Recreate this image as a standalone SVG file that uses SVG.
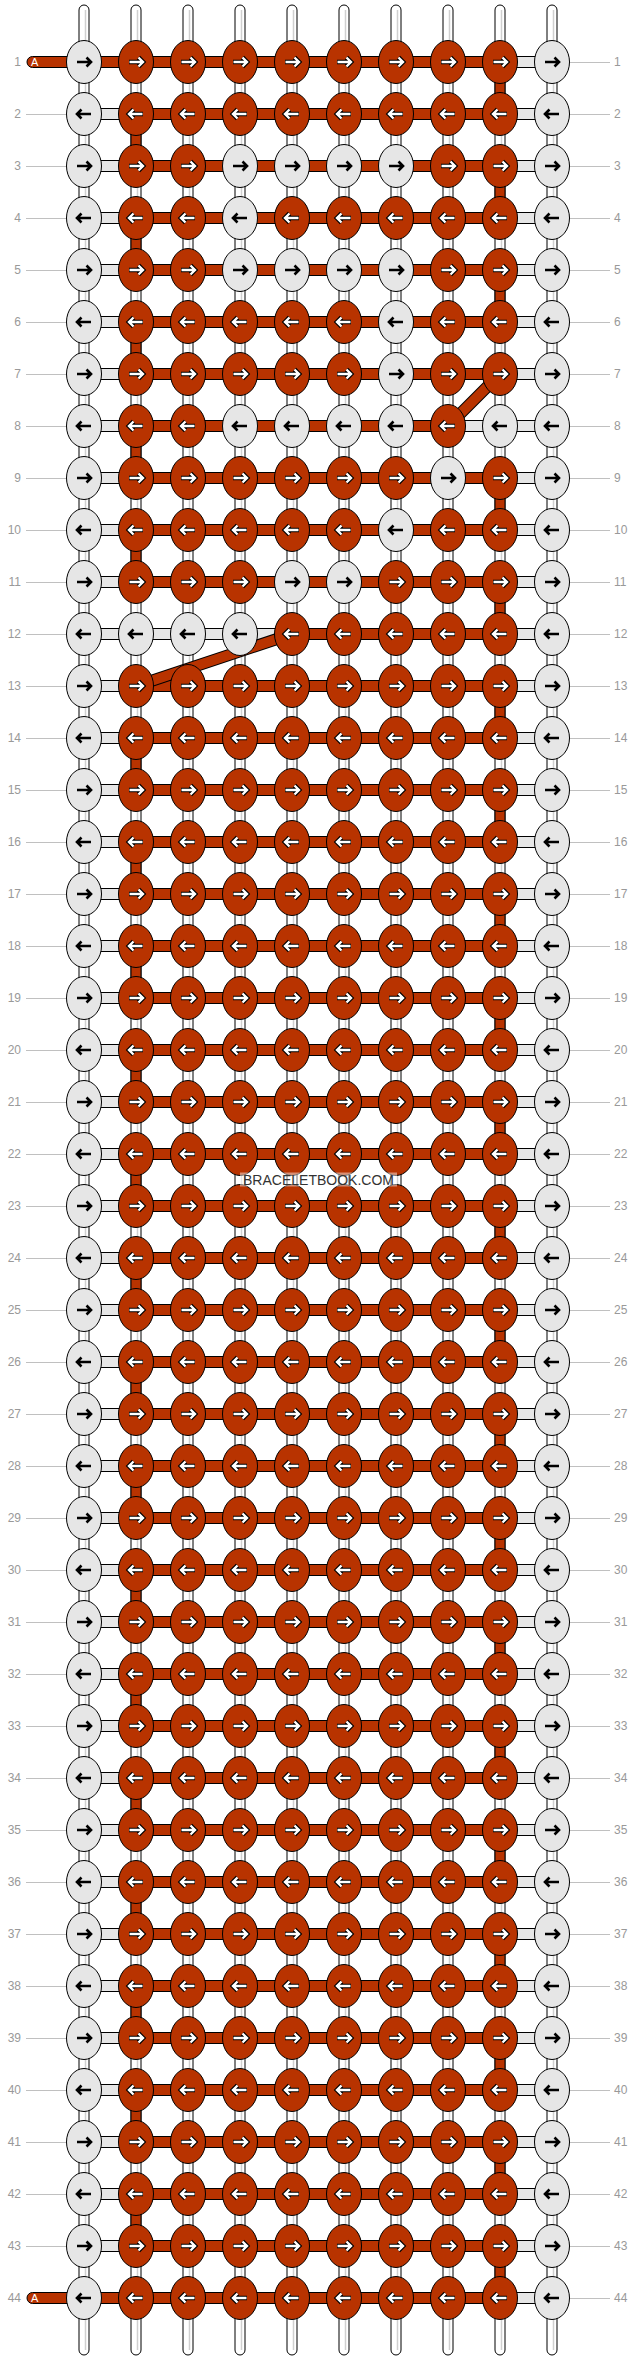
<svg xmlns="http://www.w3.org/2000/svg" xmlns:xlink="http://www.w3.org/1999/xlink" width="636" height="2360" viewBox="0 0 636 2360">
<style>
.vt{fill:#fff;stroke:#000;stroke-width:1}
.vl{stroke:#cfcfcf;stroke-width:1.5;fill:none}
.hl{fill:#e6e6e6;stroke:#000;stroke-width:1}
.hr{fill:#b83300;stroke:#000;stroke-width:1}
.kw{fill:#e6e6e6;stroke:#000;stroke-width:1}
.kr{fill:#b83300;stroke:#000;stroke-width:1}
.ab{fill:none;stroke:#000;stroke-width:2.6}
.ao{fill:none;stroke:#000;stroke-width:4.6}
.ai{fill:none;stroke:#fff;stroke-width:2.4}
.ln{stroke:#c0c0c0;stroke-width:1;fill:none}
.nm{font-family:"Liberation Sans",Arial,sans-serif;font-size:12px;fill:#999}
.nr{text-anchor:end}
.tg{font-family:"Liberation Sans",Arial,sans-serif;font-size:11px;fill:#fff}
.dg1{stroke:#000;stroke-width:12;fill:none}
.dg2{stroke:#b83300;stroke-width:10;fill:none}
</style>
<defs>
<g id="a"><ellipse class="kw" rx="17.5" ry="21.5"/><path class="ab" d="M-7,0H6M2.5,-4.5L7,0L2.5,4.5"/></g>
<g id="b"><ellipse class="kw" rx="17.5" ry="21.5"/><path class="ab" d="M7,0H-6M-2.5,-4.5L-7,0L-2.5,4.5"/></g>
<g id="c"><ellipse class="kr" rx="17.5" ry="21.5"/><path class="ao" d="M-7,0H6M2.5,-4.5L7,0L2.5,4.5"/><path class="ai" d="M-6.5,0H6M2.5,-4.5L7,0L2.5,4.5"/></g>
<g id="d"><ellipse class="kr" rx="17.5" ry="21.5"/><path class="ao" d="M7,0H-6M-2.5,-4.5L-7,0L-2.5,4.5"/><path class="ai" d="M6.5,0H-6M-2.5,-4.5L-7,0L-2.5,4.5"/></g>
</defs>
<rect width="636" height="2360" fill="#fff"/>
<g id="connectors">
<g id="threads">
<rect class="vt" x="79" y="5" width="10" height="2350" rx="5"/>
<rect class="vt" x="131" y="5" width="10" height="2350" rx="5"/>
<rect class="vt" x="183" y="5" width="10" height="2350" rx="5"/>
<rect class="vt" x="235" y="5" width="10" height="2350" rx="5"/>
<rect class="vt" x="287" y="5" width="10" height="2350" rx="5"/>
<rect class="vt" x="339" y="5" width="10" height="2350" rx="5"/>
<rect class="vt" x="391" y="5" width="10" height="2350" rx="5"/>
<rect class="vt" x="443" y="5" width="10" height="2350" rx="5"/>
<rect class="vt" x="495" y="5" width="10" height="2350" rx="5"/>
<rect class="vt" x="547" y="5" width="10" height="2350" rx="5"/>
<path class="vl" d="M85.5,10V2350M137.5,10V2350M189.5,10V2350M241.5,10V2350M293.5,10V2350M345.5,10V2350M397.5,10V2350M449.5,10V2350M501.5,10V2350M553.5,10V2350"/>
</g>
<g id="rowbars">
<rect class="hl" x="84" y="56.5" width="468" height="11"/>
<rect class="hl" x="84" y="108.5" width="468" height="11"/>
<rect class="hl" x="84" y="160.5" width="468" height="11"/>
<rect class="hl" x="84" y="212.5" width="468" height="11"/>
<rect class="hl" x="84" y="264.5" width="468" height="11"/>
<rect class="hl" x="84" y="316.5" width="468" height="11"/>
<rect class="hl" x="84" y="368.5" width="468" height="11"/>
<rect class="hl" x="84" y="420.5" width="468" height="11"/>
<rect class="hl" x="84" y="472.5" width="468" height="11"/>
<rect class="hl" x="84" y="524.5" width="468" height="11"/>
<rect class="hl" x="84" y="576.5" width="468" height="11"/>
<rect class="hl" x="84" y="628.5" width="468" height="11"/>
<rect class="hl" x="84" y="680.5" width="468" height="11"/>
<rect class="hl" x="84" y="732.5" width="468" height="11"/>
<rect class="hl" x="84" y="784.5" width="468" height="11"/>
<rect class="hl" x="84" y="836.5" width="468" height="11"/>
<rect class="hl" x="84" y="888.5" width="468" height="11"/>
<rect class="hl" x="84" y="940.5" width="468" height="11"/>
<rect class="hl" x="84" y="992.5" width="468" height="11"/>
<rect class="hl" x="84" y="1044.5" width="468" height="11"/>
<rect class="hl" x="84" y="1096.5" width="468" height="11"/>
<rect class="hl" x="84" y="1148.5" width="468" height="11"/>
<rect class="hl" x="84" y="1200.5" width="468" height="11"/>
<rect class="hl" x="84" y="1252.5" width="468" height="11"/>
<rect class="hl" x="84" y="1304.5" width="468" height="11"/>
<rect class="hl" x="84" y="1356.5" width="468" height="11"/>
<rect class="hl" x="84" y="1408.5" width="468" height="11"/>
<rect class="hl" x="84" y="1460.5" width="468" height="11"/>
<rect class="hl" x="84" y="1512.5" width="468" height="11"/>
<rect class="hl" x="84" y="1564.5" width="468" height="11"/>
<rect class="hl" x="84" y="1616.5" width="468" height="11"/>
<rect class="hl" x="84" y="1668.5" width="468" height="11"/>
<rect class="hl" x="84" y="1720.5" width="468" height="11"/>
<rect class="hl" x="84" y="1772.5" width="468" height="11"/>
<rect class="hl" x="84" y="1824.5" width="468" height="11"/>
<rect class="hl" x="84" y="1876.5" width="468" height="11"/>
<rect class="hl" x="84" y="1928.5" width="468" height="11"/>
<rect class="hl" x="84" y="1980.5" width="468" height="11"/>
<rect class="hl" x="84" y="2032.5" width="468" height="11"/>
<rect class="hl" x="84" y="2084.5" width="468" height="11"/>
<rect class="hl" x="84" y="2136.5" width="468" height="11"/>
<rect class="hl" x="84" y="2188.5" width="468" height="11"/>
<rect class="hl" x="84" y="2240.5" width="468" height="11"/>
<rect class="hl" x="84" y="2292.5" width="468" height="11"/>
</g>
<g id="redthread">
<rect class="hr" x="27" y="56.5" width="60" height="11" rx="5.5"/>
<rect class="hr" x="84" y="56.5" width="416" height="11"/>
<rect class="hr" x="136" y="108.5" width="364" height="11"/>
<rect class="hr" x="136" y="160.5" width="364" height="11"/>
<rect class="hr" x="136" y="212.5" width="364" height="11"/>
<rect class="hr" x="136" y="264.5" width="364" height="11"/>
<rect class="hr" x="136" y="316.5" width="364" height="11"/>
<rect class="hr" x="136" y="368.5" width="364" height="11"/>
<rect class="hr" x="136" y="420.5" width="312" height="11"/>
<rect class="hr" x="136" y="472.5" width="364" height="11"/>
<rect class="hr" x="136" y="524.5" width="364" height="11"/>
<rect class="hr" x="136" y="576.5" width="364" height="11"/>
<rect class="hr" x="292" y="628.5" width="208" height="11"/>
<rect class="hr" x="136" y="680.5" width="364" height="11"/>
<rect class="hr" x="136" y="732.5" width="364" height="11"/>
<rect class="hr" x="136" y="784.5" width="364" height="11"/>
<rect class="hr" x="136" y="836.5" width="364" height="11"/>
<rect class="hr" x="136" y="888.5" width="364" height="11"/>
<rect class="hr" x="136" y="940.5" width="364" height="11"/>
<rect class="hr" x="136" y="992.5" width="364" height="11"/>
<rect class="hr" x="136" y="1044.5" width="364" height="11"/>
<rect class="hr" x="136" y="1096.5" width="364" height="11"/>
<rect class="hr" x="136" y="1148.5" width="364" height="11"/>
<rect class="hr" x="136" y="1200.5" width="364" height="11"/>
<rect class="hr" x="136" y="1252.5" width="364" height="11"/>
<rect class="hr" x="136" y="1304.5" width="364" height="11"/>
<rect class="hr" x="136" y="1356.5" width="364" height="11"/>
<rect class="hr" x="136" y="1408.5" width="364" height="11"/>
<rect class="hr" x="136" y="1460.5" width="364" height="11"/>
<rect class="hr" x="136" y="1512.5" width="364" height="11"/>
<rect class="hr" x="136" y="1564.5" width="364" height="11"/>
<rect class="hr" x="136" y="1616.5" width="364" height="11"/>
<rect class="hr" x="136" y="1668.5" width="364" height="11"/>
<rect class="hr" x="136" y="1720.5" width="364" height="11"/>
<rect class="hr" x="136" y="1772.5" width="364" height="11"/>
<rect class="hr" x="136" y="1824.5" width="364" height="11"/>
<rect class="hr" x="136" y="1876.5" width="364" height="11"/>
<rect class="hr" x="136" y="1928.5" width="364" height="11"/>
<rect class="hr" x="136" y="1980.5" width="364" height="11"/>
<rect class="hr" x="136" y="2032.5" width="364" height="11"/>
<rect class="hr" x="136" y="2084.5" width="364" height="11"/>
<rect class="hr" x="136" y="2136.5" width="364" height="11"/>
<rect class="hr" x="136" y="2188.5" width="364" height="11"/>
<rect class="hr" x="136" y="2240.5" width="364" height="11"/>
<rect class="hr" x="27" y="2292.5" width="60" height="11" rx="5.5"/>
<rect class="hr" x="84" y="2292.5" width="416" height="11"/>
<!-- turns at right (col 9) -->
<rect class="hr" x="495" y="62" width="10" height="52"/>
<rect class="hr" x="495" y="166" width="10" height="52"/>
<rect class="hr" x="495" y="270" width="10" height="52"/>
<rect class="hr" x="495" y="478" width="10" height="52"/>
<rect class="hr" x="495" y="582" width="10" height="52"/>
<rect class="hr" x="495" y="686" width="10" height="52"/>
<rect class="hr" x="495" y="790" width="10" height="52"/>
<rect class="hr" x="495" y="894" width="10" height="52"/>
<rect class="hr" x="495" y="998" width="10" height="52"/>
<rect class="hr" x="495" y="1102" width="10" height="52"/>
<rect class="hr" x="495" y="1206" width="10" height="52"/>
<rect class="hr" x="495" y="1310" width="10" height="52"/>
<rect class="hr" x="495" y="1414" width="10" height="52"/>
<rect class="hr" x="495" y="1518" width="10" height="52"/>
<rect class="hr" x="495" y="1622" width="10" height="52"/>
<rect class="hr" x="495" y="1726" width="10" height="52"/>
<rect class="hr" x="495" y="1830" width="10" height="52"/>
<rect class="hr" x="495" y="1934" width="10" height="52"/>
<rect class="hr" x="495" y="2038" width="10" height="52"/>
<rect class="hr" x="495" y="2142" width="10" height="52"/>
<rect class="hr" x="495" y="2246" width="10" height="52"/>
<!-- turns at left (col 2) -->
<rect class="hr" x="131" y="114" width="10" height="52"/>
<rect class="hr" x="131" y="218" width="10" height="52"/>
<rect class="hr" x="131" y="322" width="10" height="52"/>
<rect class="hr" x="131" y="426" width="10" height="52"/>
<rect class="hr" x="131" y="530" width="10" height="52"/>
<rect class="hr" x="131" y="738" width="10" height="52"/>
<rect class="hr" x="131" y="842" width="10" height="52"/>
<rect class="hr" x="131" y="946" width="10" height="52"/>
<rect class="hr" x="131" y="1050" width="10" height="52"/>
<rect class="hr" x="131" y="1154" width="10" height="52"/>
<rect class="hr" x="131" y="1258" width="10" height="52"/>
<rect class="hr" x="131" y="1362" width="10" height="52"/>
<rect class="hr" x="131" y="1466" width="10" height="52"/>
<rect class="hr" x="131" y="1570" width="10" height="52"/>
<rect class="hr" x="131" y="1674" width="10" height="52"/>
<rect class="hr" x="131" y="1778" width="10" height="52"/>
<rect class="hr" x="131" y="1882" width="10" height="52"/>
<rect class="hr" x="131" y="1986" width="10" height="52"/>
<rect class="hr" x="131" y="2090" width="10" height="52"/>
<rect class="hr" x="131" y="2194" width="10" height="52"/>
<!-- diagonals -->
<path class="dg1" d="M500,374L448,426M292,634L136,686"/>
<path class="dg2" d="M500,374L448,426M292,634L136,686"/>
</g>
</g>
<g id="tags">
<text class="tg" x="31" y="66">A</text>
<text class="tg" x="31" y="2302">A</text>
</g>
<g id="nodes">
<g id="row1" transform="translate(0,62)"><use id="k1-1" href="#a" x="84"/><use id="k1-2" href="#c" x="136"/><use id="k1-3" href="#c" x="188"/><use id="k1-4" href="#c" x="240"/><use id="k1-5" href="#c" x="292"/><use id="k1-6" href="#c" x="344"/><use id="k1-7" href="#c" x="396"/><use id="k1-8" href="#c" x="448"/><use id="k1-9" href="#c" x="500"/><use id="k1-10" href="#a" x="552"/></g>
<g id="row2" transform="translate(0,114)"><use id="k2-1" href="#b" x="84"/><use id="k2-2" href="#d" x="136"/><use id="k2-3" href="#d" x="188"/><use id="k2-4" href="#d" x="240"/><use id="k2-5" href="#d" x="292"/><use id="k2-6" href="#d" x="344"/><use id="k2-7" href="#d" x="396"/><use id="k2-8" href="#d" x="448"/><use id="k2-9" href="#d" x="500"/><use id="k2-10" href="#b" x="552"/></g>
<g id="row3" transform="translate(0,166)"><use id="k3-1" href="#a" x="84"/><use id="k3-2" href="#c" x="136"/><use id="k3-3" href="#c" x="188"/><use id="k3-4" href="#a" x="240"/><use id="k3-5" href="#a" x="292"/><use id="k3-6" href="#a" x="344"/><use id="k3-7" href="#a" x="396"/><use id="k3-8" href="#c" x="448"/><use id="k3-9" href="#c" x="500"/><use id="k3-10" href="#a" x="552"/></g>
<g id="row4" transform="translate(0,218)"><use id="k4-1" href="#b" x="84"/><use id="k4-2" href="#d" x="136"/><use id="k4-3" href="#d" x="188"/><use id="k4-4" href="#b" x="240"/><use id="k4-5" href="#d" x="292"/><use id="k4-6" href="#d" x="344"/><use id="k4-7" href="#d" x="396"/><use id="k4-8" href="#d" x="448"/><use id="k4-9" href="#d" x="500"/><use id="k4-10" href="#b" x="552"/></g>
<g id="row5" transform="translate(0,270)"><use id="k5-1" href="#a" x="84"/><use id="k5-2" href="#c" x="136"/><use id="k5-3" href="#c" x="188"/><use id="k5-4" href="#a" x="240"/><use id="k5-5" href="#a" x="292"/><use id="k5-6" href="#a" x="344"/><use id="k5-7" href="#a" x="396"/><use id="k5-8" href="#c" x="448"/><use id="k5-9" href="#c" x="500"/><use id="k5-10" href="#a" x="552"/></g>
<g id="row6" transform="translate(0,322)"><use id="k6-1" href="#b" x="84"/><use id="k6-2" href="#d" x="136"/><use id="k6-3" href="#d" x="188"/><use id="k6-4" href="#d" x="240"/><use id="k6-5" href="#d" x="292"/><use id="k6-6" href="#d" x="344"/><use id="k6-7" href="#b" x="396"/><use id="k6-8" href="#d" x="448"/><use id="k6-9" href="#d" x="500"/><use id="k6-10" href="#b" x="552"/></g>
<g id="row7" transform="translate(0,374)"><use id="k7-1" href="#a" x="84"/><use id="k7-2" href="#c" x="136"/><use id="k7-3" href="#c" x="188"/><use id="k7-4" href="#c" x="240"/><use id="k7-5" href="#c" x="292"/><use id="k7-6" href="#c" x="344"/><use id="k7-7" href="#a" x="396"/><use id="k7-8" href="#c" x="448"/><use id="k7-9" href="#c" x="500"/><use id="k7-10" href="#a" x="552"/></g>
<g id="row8" transform="translate(0,426)"><use id="k8-1" href="#b" x="84"/><use id="k8-2" href="#d" x="136"/><use id="k8-3" href="#d" x="188"/><use id="k8-4" href="#b" x="240"/><use id="k8-5" href="#b" x="292"/><use id="k8-6" href="#b" x="344"/><use id="k8-7" href="#b" x="396"/><use id="k8-8" href="#d" x="448"/><use id="k8-9" href="#b" x="500"/><use id="k8-10" href="#b" x="552"/></g>
<g id="row9" transform="translate(0,478)"><use id="k9-1" href="#a" x="84"/><use id="k9-2" href="#c" x="136"/><use id="k9-3" href="#c" x="188"/><use id="k9-4" href="#c" x="240"/><use id="k9-5" href="#c" x="292"/><use id="k9-6" href="#c" x="344"/><use id="k9-7" href="#c" x="396"/><use id="k9-8" href="#a" x="448"/><use id="k9-9" href="#c" x="500"/><use id="k9-10" href="#a" x="552"/></g>
<g id="row10" transform="translate(0,530)"><use id="k10-1" href="#b" x="84"/><use id="k10-2" href="#d" x="136"/><use id="k10-3" href="#d" x="188"/><use id="k10-4" href="#d" x="240"/><use id="k10-5" href="#d" x="292"/><use id="k10-6" href="#d" x="344"/><use id="k10-7" href="#b" x="396"/><use id="k10-8" href="#d" x="448"/><use id="k10-9" href="#d" x="500"/><use id="k10-10" href="#b" x="552"/></g>
<g id="row11" transform="translate(0,582)"><use id="k11-1" href="#a" x="84"/><use id="k11-2" href="#c" x="136"/><use id="k11-3" href="#c" x="188"/><use id="k11-4" href="#c" x="240"/><use id="k11-5" href="#a" x="292"/><use id="k11-6" href="#a" x="344"/><use id="k11-7" href="#c" x="396"/><use id="k11-8" href="#c" x="448"/><use id="k11-9" href="#c" x="500"/><use id="k11-10" href="#a" x="552"/></g>
<g id="row12" transform="translate(0,634)"><use id="k12-1" href="#b" x="84"/><use id="k12-2" href="#b" x="136"/><use id="k12-3" href="#b" x="188"/><use id="k12-4" href="#b" x="240"/><use id="k12-5" href="#d" x="292"/><use id="k12-6" href="#d" x="344"/><use id="k12-7" href="#d" x="396"/><use id="k12-8" href="#d" x="448"/><use id="k12-9" href="#d" x="500"/><use id="k12-10" href="#b" x="552"/></g>
<g id="row13" transform="translate(0,686)"><use id="k13-1" href="#a" x="84"/><use id="k13-2" href="#c" x="136"/><use id="k13-3" href="#c" x="188"/><use id="k13-4" href="#c" x="240"/><use id="k13-5" href="#c" x="292"/><use id="k13-6" href="#c" x="344"/><use id="k13-7" href="#c" x="396"/><use id="k13-8" href="#c" x="448"/><use id="k13-9" href="#c" x="500"/><use id="k13-10" href="#a" x="552"/></g>
<g id="row14" transform="translate(0,738)"><use id="k14-1" href="#b" x="84"/><use id="k14-2" href="#d" x="136"/><use id="k14-3" href="#d" x="188"/><use id="k14-4" href="#d" x="240"/><use id="k14-5" href="#d" x="292"/><use id="k14-6" href="#d" x="344"/><use id="k14-7" href="#d" x="396"/><use id="k14-8" href="#d" x="448"/><use id="k14-9" href="#d" x="500"/><use id="k14-10" href="#b" x="552"/></g>
<g id="row15" transform="translate(0,790)"><use id="k15-1" href="#a" x="84"/><use id="k15-2" href="#c" x="136"/><use id="k15-3" href="#c" x="188"/><use id="k15-4" href="#c" x="240"/><use id="k15-5" href="#c" x="292"/><use id="k15-6" href="#c" x="344"/><use id="k15-7" href="#c" x="396"/><use id="k15-8" href="#c" x="448"/><use id="k15-9" href="#c" x="500"/><use id="k15-10" href="#a" x="552"/></g>
<g id="row16" transform="translate(0,842)"><use id="k16-1" href="#b" x="84"/><use id="k16-2" href="#d" x="136"/><use id="k16-3" href="#d" x="188"/><use id="k16-4" href="#d" x="240"/><use id="k16-5" href="#d" x="292"/><use id="k16-6" href="#d" x="344"/><use id="k16-7" href="#d" x="396"/><use id="k16-8" href="#d" x="448"/><use id="k16-9" href="#d" x="500"/><use id="k16-10" href="#b" x="552"/></g>
<g id="row17" transform="translate(0,894)"><use id="k17-1" href="#a" x="84"/><use id="k17-2" href="#c" x="136"/><use id="k17-3" href="#c" x="188"/><use id="k17-4" href="#c" x="240"/><use id="k17-5" href="#c" x="292"/><use id="k17-6" href="#c" x="344"/><use id="k17-7" href="#c" x="396"/><use id="k17-8" href="#c" x="448"/><use id="k17-9" href="#c" x="500"/><use id="k17-10" href="#a" x="552"/></g>
<g id="row18" transform="translate(0,946)"><use id="k18-1" href="#b" x="84"/><use id="k18-2" href="#d" x="136"/><use id="k18-3" href="#d" x="188"/><use id="k18-4" href="#d" x="240"/><use id="k18-5" href="#d" x="292"/><use id="k18-6" href="#d" x="344"/><use id="k18-7" href="#d" x="396"/><use id="k18-8" href="#d" x="448"/><use id="k18-9" href="#d" x="500"/><use id="k18-10" href="#b" x="552"/></g>
<g id="row19" transform="translate(0,998)"><use id="k19-1" href="#a" x="84"/><use id="k19-2" href="#c" x="136"/><use id="k19-3" href="#c" x="188"/><use id="k19-4" href="#c" x="240"/><use id="k19-5" href="#c" x="292"/><use id="k19-6" href="#c" x="344"/><use id="k19-7" href="#c" x="396"/><use id="k19-8" href="#c" x="448"/><use id="k19-9" href="#c" x="500"/><use id="k19-10" href="#a" x="552"/></g>
<g id="row20" transform="translate(0,1050)"><use id="k20-1" href="#b" x="84"/><use id="k20-2" href="#d" x="136"/><use id="k20-3" href="#d" x="188"/><use id="k20-4" href="#d" x="240"/><use id="k20-5" href="#d" x="292"/><use id="k20-6" href="#d" x="344"/><use id="k20-7" href="#d" x="396"/><use id="k20-8" href="#d" x="448"/><use id="k20-9" href="#d" x="500"/><use id="k20-10" href="#b" x="552"/></g>
<g id="row21" transform="translate(0,1102)"><use id="k21-1" href="#a" x="84"/><use id="k21-2" href="#c" x="136"/><use id="k21-3" href="#c" x="188"/><use id="k21-4" href="#c" x="240"/><use id="k21-5" href="#c" x="292"/><use id="k21-6" href="#c" x="344"/><use id="k21-7" href="#c" x="396"/><use id="k21-8" href="#c" x="448"/><use id="k21-9" href="#c" x="500"/><use id="k21-10" href="#a" x="552"/></g>
<g id="row22" transform="translate(0,1154)"><use id="k22-1" href="#b" x="84"/><use id="k22-2" href="#d" x="136"/><use id="k22-3" href="#d" x="188"/><use id="k22-4" href="#d" x="240"/><use id="k22-5" href="#d" x="292"/><use id="k22-6" href="#d" x="344"/><use id="k22-7" href="#d" x="396"/><use id="k22-8" href="#d" x="448"/><use id="k22-9" href="#d" x="500"/><use id="k22-10" href="#b" x="552"/></g>
<g id="row23" transform="translate(0,1206)"><use id="k23-1" href="#a" x="84"/><use id="k23-2" href="#c" x="136"/><use id="k23-3" href="#c" x="188"/><use id="k23-4" href="#c" x="240"/><use id="k23-5" href="#c" x="292"/><use id="k23-6" href="#c" x="344"/><use id="k23-7" href="#c" x="396"/><use id="k23-8" href="#c" x="448"/><use id="k23-9" href="#c" x="500"/><use id="k23-10" href="#a" x="552"/></g>
<g id="row24" transform="translate(0,1258)"><use id="k24-1" href="#b" x="84"/><use id="k24-2" href="#d" x="136"/><use id="k24-3" href="#d" x="188"/><use id="k24-4" href="#d" x="240"/><use id="k24-5" href="#d" x="292"/><use id="k24-6" href="#d" x="344"/><use id="k24-7" href="#d" x="396"/><use id="k24-8" href="#d" x="448"/><use id="k24-9" href="#d" x="500"/><use id="k24-10" href="#b" x="552"/></g>
<g id="row25" transform="translate(0,1310)"><use id="k25-1" href="#a" x="84"/><use id="k25-2" href="#c" x="136"/><use id="k25-3" href="#c" x="188"/><use id="k25-4" href="#c" x="240"/><use id="k25-5" href="#c" x="292"/><use id="k25-6" href="#c" x="344"/><use id="k25-7" href="#c" x="396"/><use id="k25-8" href="#c" x="448"/><use id="k25-9" href="#c" x="500"/><use id="k25-10" href="#a" x="552"/></g>
<g id="row26" transform="translate(0,1362)"><use id="k26-1" href="#b" x="84"/><use id="k26-2" href="#d" x="136"/><use id="k26-3" href="#d" x="188"/><use id="k26-4" href="#d" x="240"/><use id="k26-5" href="#d" x="292"/><use id="k26-6" href="#d" x="344"/><use id="k26-7" href="#d" x="396"/><use id="k26-8" href="#d" x="448"/><use id="k26-9" href="#d" x="500"/><use id="k26-10" href="#b" x="552"/></g>
<g id="row27" transform="translate(0,1414)"><use id="k27-1" href="#a" x="84"/><use id="k27-2" href="#c" x="136"/><use id="k27-3" href="#c" x="188"/><use id="k27-4" href="#c" x="240"/><use id="k27-5" href="#c" x="292"/><use id="k27-6" href="#c" x="344"/><use id="k27-7" href="#c" x="396"/><use id="k27-8" href="#c" x="448"/><use id="k27-9" href="#c" x="500"/><use id="k27-10" href="#a" x="552"/></g>
<g id="row28" transform="translate(0,1466)"><use id="k28-1" href="#b" x="84"/><use id="k28-2" href="#d" x="136"/><use id="k28-3" href="#d" x="188"/><use id="k28-4" href="#d" x="240"/><use id="k28-5" href="#d" x="292"/><use id="k28-6" href="#d" x="344"/><use id="k28-7" href="#d" x="396"/><use id="k28-8" href="#d" x="448"/><use id="k28-9" href="#d" x="500"/><use id="k28-10" href="#b" x="552"/></g>
<g id="row29" transform="translate(0,1518)"><use id="k29-1" href="#a" x="84"/><use id="k29-2" href="#c" x="136"/><use id="k29-3" href="#c" x="188"/><use id="k29-4" href="#c" x="240"/><use id="k29-5" href="#c" x="292"/><use id="k29-6" href="#c" x="344"/><use id="k29-7" href="#c" x="396"/><use id="k29-8" href="#c" x="448"/><use id="k29-9" href="#c" x="500"/><use id="k29-10" href="#a" x="552"/></g>
<g id="row30" transform="translate(0,1570)"><use id="k30-1" href="#b" x="84"/><use id="k30-2" href="#d" x="136"/><use id="k30-3" href="#d" x="188"/><use id="k30-4" href="#d" x="240"/><use id="k30-5" href="#d" x="292"/><use id="k30-6" href="#d" x="344"/><use id="k30-7" href="#d" x="396"/><use id="k30-8" href="#d" x="448"/><use id="k30-9" href="#d" x="500"/><use id="k30-10" href="#b" x="552"/></g>
<g id="row31" transform="translate(0,1622)"><use id="k31-1" href="#a" x="84"/><use id="k31-2" href="#c" x="136"/><use id="k31-3" href="#c" x="188"/><use id="k31-4" href="#c" x="240"/><use id="k31-5" href="#c" x="292"/><use id="k31-6" href="#c" x="344"/><use id="k31-7" href="#c" x="396"/><use id="k31-8" href="#c" x="448"/><use id="k31-9" href="#c" x="500"/><use id="k31-10" href="#a" x="552"/></g>
<g id="row32" transform="translate(0,1674)"><use id="k32-1" href="#b" x="84"/><use id="k32-2" href="#d" x="136"/><use id="k32-3" href="#d" x="188"/><use id="k32-4" href="#d" x="240"/><use id="k32-5" href="#d" x="292"/><use id="k32-6" href="#d" x="344"/><use id="k32-7" href="#d" x="396"/><use id="k32-8" href="#d" x="448"/><use id="k32-9" href="#d" x="500"/><use id="k32-10" href="#b" x="552"/></g>
<g id="row33" transform="translate(0,1726)"><use id="k33-1" href="#a" x="84"/><use id="k33-2" href="#c" x="136"/><use id="k33-3" href="#c" x="188"/><use id="k33-4" href="#c" x="240"/><use id="k33-5" href="#c" x="292"/><use id="k33-6" href="#c" x="344"/><use id="k33-7" href="#c" x="396"/><use id="k33-8" href="#c" x="448"/><use id="k33-9" href="#c" x="500"/><use id="k33-10" href="#a" x="552"/></g>
<g id="row34" transform="translate(0,1778)"><use id="k34-1" href="#b" x="84"/><use id="k34-2" href="#d" x="136"/><use id="k34-3" href="#d" x="188"/><use id="k34-4" href="#d" x="240"/><use id="k34-5" href="#d" x="292"/><use id="k34-6" href="#d" x="344"/><use id="k34-7" href="#d" x="396"/><use id="k34-8" href="#d" x="448"/><use id="k34-9" href="#d" x="500"/><use id="k34-10" href="#b" x="552"/></g>
<g id="row35" transform="translate(0,1830)"><use id="k35-1" href="#a" x="84"/><use id="k35-2" href="#c" x="136"/><use id="k35-3" href="#c" x="188"/><use id="k35-4" href="#c" x="240"/><use id="k35-5" href="#c" x="292"/><use id="k35-6" href="#c" x="344"/><use id="k35-7" href="#c" x="396"/><use id="k35-8" href="#c" x="448"/><use id="k35-9" href="#c" x="500"/><use id="k35-10" href="#a" x="552"/></g>
<g id="row36" transform="translate(0,1882)"><use id="k36-1" href="#b" x="84"/><use id="k36-2" href="#d" x="136"/><use id="k36-3" href="#d" x="188"/><use id="k36-4" href="#d" x="240"/><use id="k36-5" href="#d" x="292"/><use id="k36-6" href="#d" x="344"/><use id="k36-7" href="#d" x="396"/><use id="k36-8" href="#d" x="448"/><use id="k36-9" href="#d" x="500"/><use id="k36-10" href="#b" x="552"/></g>
<g id="row37" transform="translate(0,1934)"><use id="k37-1" href="#a" x="84"/><use id="k37-2" href="#c" x="136"/><use id="k37-3" href="#c" x="188"/><use id="k37-4" href="#c" x="240"/><use id="k37-5" href="#c" x="292"/><use id="k37-6" href="#c" x="344"/><use id="k37-7" href="#c" x="396"/><use id="k37-8" href="#c" x="448"/><use id="k37-9" href="#c" x="500"/><use id="k37-10" href="#a" x="552"/></g>
<g id="row38" transform="translate(0,1986)"><use id="k38-1" href="#b" x="84"/><use id="k38-2" href="#d" x="136"/><use id="k38-3" href="#d" x="188"/><use id="k38-4" href="#d" x="240"/><use id="k38-5" href="#d" x="292"/><use id="k38-6" href="#d" x="344"/><use id="k38-7" href="#d" x="396"/><use id="k38-8" href="#d" x="448"/><use id="k38-9" href="#d" x="500"/><use id="k38-10" href="#b" x="552"/></g>
<g id="row39" transform="translate(0,2038)"><use id="k39-1" href="#a" x="84"/><use id="k39-2" href="#c" x="136"/><use id="k39-3" href="#c" x="188"/><use id="k39-4" href="#c" x="240"/><use id="k39-5" href="#c" x="292"/><use id="k39-6" href="#c" x="344"/><use id="k39-7" href="#c" x="396"/><use id="k39-8" href="#c" x="448"/><use id="k39-9" href="#c" x="500"/><use id="k39-10" href="#a" x="552"/></g>
<g id="row40" transform="translate(0,2090)"><use id="k40-1" href="#b" x="84"/><use id="k40-2" href="#d" x="136"/><use id="k40-3" href="#d" x="188"/><use id="k40-4" href="#d" x="240"/><use id="k40-5" href="#d" x="292"/><use id="k40-6" href="#d" x="344"/><use id="k40-7" href="#d" x="396"/><use id="k40-8" href="#d" x="448"/><use id="k40-9" href="#d" x="500"/><use id="k40-10" href="#b" x="552"/></g>
<g id="row41" transform="translate(0,2142)"><use id="k41-1" href="#a" x="84"/><use id="k41-2" href="#c" x="136"/><use id="k41-3" href="#c" x="188"/><use id="k41-4" href="#c" x="240"/><use id="k41-5" href="#c" x="292"/><use id="k41-6" href="#c" x="344"/><use id="k41-7" href="#c" x="396"/><use id="k41-8" href="#c" x="448"/><use id="k41-9" href="#c" x="500"/><use id="k41-10" href="#a" x="552"/></g>
<g id="row42" transform="translate(0,2194)"><use id="k42-1" href="#b" x="84"/><use id="k42-2" href="#d" x="136"/><use id="k42-3" href="#d" x="188"/><use id="k42-4" href="#d" x="240"/><use id="k42-5" href="#d" x="292"/><use id="k42-6" href="#d" x="344"/><use id="k42-7" href="#d" x="396"/><use id="k42-8" href="#d" x="448"/><use id="k42-9" href="#d" x="500"/><use id="k42-10" href="#b" x="552"/></g>
<g id="row43" transform="translate(0,2246)"><use id="k43-1" href="#a" x="84"/><use id="k43-2" href="#c" x="136"/><use id="k43-3" href="#c" x="188"/><use id="k43-4" href="#c" x="240"/><use id="k43-5" href="#c" x="292"/><use id="k43-6" href="#c" x="344"/><use id="k43-7" href="#c" x="396"/><use id="k43-8" href="#c" x="448"/><use id="k43-9" href="#c" x="500"/><use id="k43-10" href="#a" x="552"/></g>
<g id="row44" transform="translate(0,2298)"><use id="k44-1" href="#b" x="84"/><use id="k44-2" href="#d" x="136"/><use id="k44-3" href="#d" x="188"/><use id="k44-4" href="#d" x="240"/><use id="k44-5" href="#d" x="292"/><use id="k44-6" href="#d" x="344"/><use id="k44-7" href="#d" x="396"/><use id="k44-8" href="#d" x="448"/><use id="k44-9" href="#d" x="500"/><use id="k44-10" href="#b" x="552"/></g>
</g>
<g id="labels">
<path class="ln" d="M26,114.5H66M26,166.5H66M26,218.5H66M26,270.5H66M26,322.5H66M26,374.5H66M26,426.5H66M26,478.5H66M26,530.5H66M26,582.5H66M26,634.5H66M26,686.5H66M26,738.5H66M26,790.5H66M26,842.5H66M26,894.5H66M26,946.5H66M26,998.5H66M26,1050.5H66M26,1102.5H66M26,1154.5H66M26,1206.5H66M26,1258.5H66M26,1310.5H66M26,1362.5H66M26,1414.5H66M26,1466.5H66M26,1518.5H66M26,1570.5H66M26,1622.5H66M26,1674.5H66M26,1726.5H66M26,1778.5H66M26,1830.5H66M26,1882.5H66M26,1934.5H66M26,1986.5H66M26,2038.5H66M26,2090.5H66M26,2142.5H66M26,2194.5H66M26,2246.5H66"/>
<path class="ln" d="M570,62.5H610M570,114.5H610M570,166.5H610M570,218.5H610M570,270.5H610M570,322.5H610M570,374.5H610M570,426.5H610M570,478.5H610M570,530.5H610M570,582.5H610M570,634.5H610M570,686.5H610M570,738.5H610M570,790.5H610M570,842.5H610M570,894.5H610M570,946.5H610M570,998.5H610M570,1050.5H610M570,1102.5H610M570,1154.5H610M570,1206.5H610M570,1258.5H610M570,1310.5H610M570,1362.5H610M570,1414.5H610M570,1466.5H610M570,1518.5H610M570,1570.5H610M570,1622.5H610M570,1674.5H610M570,1726.5H610M570,1778.5H610M570,1830.5H610M570,1882.5H610M570,1934.5H610M570,1986.5H610M570,2038.5H610M570,2090.5H610M570,2142.5H610M570,2194.5H610M570,2246.5H610M570,2298.5H610"/>
<g class="nm nr">
<text x="21" y="66.3">1</text><text x="21" y="118.3">2</text><text x="21" y="170.3">3</text><text x="21" y="222.3">4</text><text x="21" y="274.3">5</text><text x="21" y="326.3">6</text><text x="21" y="378.3">7</text><text x="21" y="430.3">8</text><text x="21" y="482.3">9</text><text x="21" y="534.3">10</text><text x="21" y="586.3">11</text><text x="21" y="638.3">12</text><text x="21" y="690.3">13</text><text x="21" y="742.3">14</text><text x="21" y="794.3">15</text><text x="21" y="846.3">16</text><text x="21" y="898.3">17</text><text x="21" y="950.3">18</text><text x="21" y="1002.3">19</text><text x="21" y="1054.3">20</text><text x="21" y="1106.3">21</text><text x="21" y="1158.3">22</text><text x="21" y="1210.3">23</text><text x="21" y="1262.3">24</text><text x="21" y="1314.3">25</text><text x="21" y="1366.3">26</text><text x="21" y="1418.3">27</text><text x="21" y="1470.3">28</text><text x="21" y="1522.3">29</text><text x="21" y="1574.3">30</text><text x="21" y="1626.3">31</text><text x="21" y="1678.3">32</text><text x="21" y="1730.3">33</text><text x="21" y="1782.3">34</text><text x="21" y="1834.3">35</text><text x="21" y="1886.3">36</text><text x="21" y="1938.3">37</text><text x="21" y="1990.3">38</text><text x="21" y="2042.3">39</text><text x="21" y="2094.3">40</text><text x="21" y="2146.3">41</text><text x="21" y="2198.3">42</text><text x="21" y="2250.3">43</text><text x="21" y="2302.3">44</text>
</g>
<g class="nm">
<text x="614" y="66.3">1</text><text x="614" y="118.3">2</text><text x="614" y="170.3">3</text><text x="614" y="222.3">4</text><text x="614" y="274.3">5</text><text x="614" y="326.3">6</text><text x="614" y="378.3">7</text><text x="614" y="430.3">8</text><text x="614" y="482.3">9</text><text x="614" y="534.3">10</text><text x="614" y="586.3">11</text><text x="614" y="638.3">12</text><text x="614" y="690.3">13</text><text x="614" y="742.3">14</text><text x="614" y="794.3">15</text><text x="614" y="846.3">16</text><text x="614" y="898.3">17</text><text x="614" y="950.3">18</text><text x="614" y="1002.3">19</text><text x="614" y="1054.3">20</text><text x="614" y="1106.3">21</text><text x="614" y="1158.3">22</text><text x="614" y="1210.3">23</text><text x="614" y="1262.3">24</text><text x="614" y="1314.3">25</text><text x="614" y="1366.3">26</text><text x="614" y="1418.3">27</text><text x="614" y="1470.3">28</text><text x="614" y="1522.3">29</text><text x="614" y="1574.3">30</text><text x="614" y="1626.3">31</text><text x="614" y="1678.3">32</text><text x="614" y="1730.3">33</text><text x="614" y="1782.3">34</text><text x="614" y="1834.3">35</text><text x="614" y="1886.3">36</text><text x="614" y="1938.3">37</text><text x="614" y="1990.3">38</text><text x="614" y="2042.3">39</text><text x="614" y="2094.3">40</text><text x="614" y="2146.3">41</text><text x="614" y="2198.3">42</text><text x="614" y="2250.3">43</text><text x="614" y="2302.3">44</text>
</g>
</g>
<g id="watermark">
<rect x="240" y="1172.5" width="157" height="14" fill="#fff" fill-opacity="0.45"/>
<text x="318.5" y="1184.5" text-anchor="middle" font-family="Liberation Sans, Arial, sans-serif" font-size="14" fill="#333">BRACELETBOOK.COM</text>
</g>
</svg>
